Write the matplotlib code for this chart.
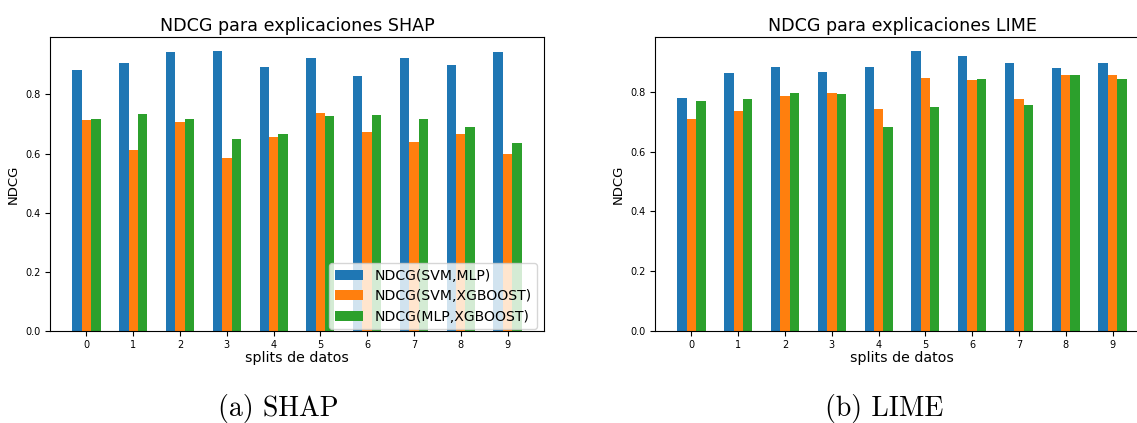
import numpy as np
import matplotlib.pyplot as plt

splits = np.arange(10)
series = ["NDCG(SVM,MLP)", "NDCG(SVM,XGBOOST)", "NDCG(MLP,XGBOOST)"]

shap_svm_mlp = [0.884, 0.907, 0.943, 0.947, 0.893, 0.924, 0.863, 0.924, 0.898, 0.944]
shap_svm_xgb = [0.713, 0.611, 0.707, 0.585, 0.655, 0.736, 0.672, 0.639, 0.666, 0.597]
shap_mlp_xgb = [0.717, 0.734, 0.717, 0.648, 0.667, 0.728, 0.729, 0.717, 0.690, 0.635]

lime_svm_mlp = [0.780, 0.862, 0.884, 0.866, 0.884, 0.937, 0.920, 0.897, 0.879, 0.897]
lime_svm_xgb = [0.709, 0.737, 0.786, 0.797, 0.743, 0.848, 0.841, 0.777, 0.858, 0.858]
lime_mlp_xgb = [0.771, 0.776, 0.797, 0.793, 0.682, 0.748, 0.843, 0.756, 0.858, 0.843]

W, H = 1137, 423
fig = plt.figure(figsize=(W / 100, H / 100), dpi=100)

width = 0.2


def draw_panel(ax, values, title, legend=False):
    for k, (vals, name) in enumerate(zip(values, series)):
        ax.bar(splits + (k - 1) * width, vals, width, label=name, color=f"C{k}")
    ax.set_xticks(splits)
    ax.tick_params(labelsize=7, pad=3)
    ax.set_title(title, fontsize=12.6, pad=4)
    ax.set_xlabel("splits de datos", fontsize=10.2, labelpad=1)
    ax.set_ylabel("NDCG", fontsize=9.5, labelpad=4)
    if legend:
        ax.legend(loc="lower right", bbox_to_anchor=(0.986, 0.006),
                  fontsize=10.1, labelspacing=0.45, borderaxespad=0)


ax1 = fig.add_axes([50 / W, 92 / H, 494 / W, 294 / H])
draw_panel(ax1, [shap_svm_mlp, shap_svm_xgb, shap_mlp_xgb],
           "NDCG para explicaciones SHAP", legend=True)

ax2 = fig.add_axes([655 / W, 92 / H, 494 / W, 294 / H])
draw_panel(ax2, [lime_svm_mlp, lime_svm_xgb, lime_mlp_xgb],
           "NDCG para explicaciones LIME")

fig.text(278 / W, 1 - 416 / H, "(a) SHAP", family="cmr10", fontsize=20,
         ha="center", va="baseline")
fig.text(884 / W, 1 - 416 / H, "(b) LIME", family="cmr10", fontsize=20,
         ha="center", va="baseline")

fig.savefig("out.png", dpi=100)
